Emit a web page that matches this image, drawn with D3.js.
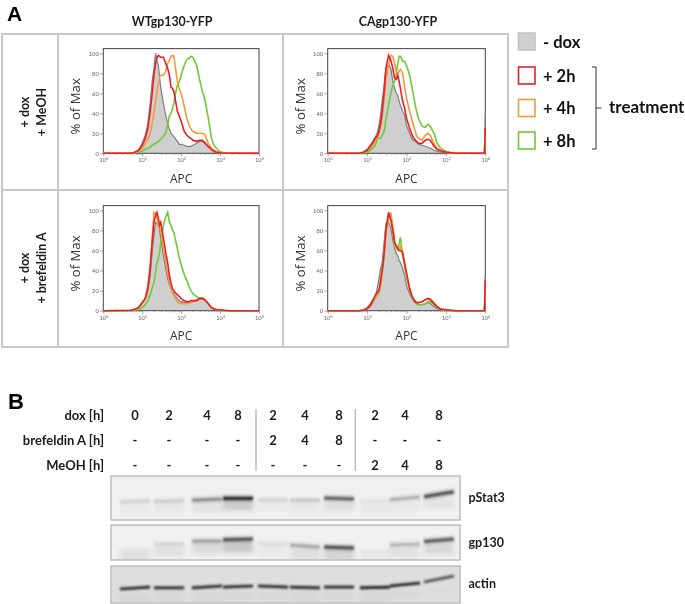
<!DOCTYPE html>
<html><head><meta charset="utf-8">
<script src="https://cdnjs.cloudflare.com/ajax/libs/d3/7.8.5/d3.min.js"></script>
<style>
html,body{margin:0;padding:0;background:#fff}
svg{display:block;filter:blur(0.4px)}
text{font-family:Lato,"Open Sans",sans-serif}
</style></head><body><div id="chart"></div>
<script>
// ---------- Flow cytometry data: % of Max at each APC value ----------
const apc = [1,5,6,8,10,12,14,16,18,20,22,24,26,28,30,35,40,45,50,55,60,65,70,80,90,100,120,140,160,180,200,250,300,350,400,500,600,700,800,1000,1300,1800,5000,9500,10000];

const wtMeohGray   = [0,0,.5,3,10,18,30,50,72,85,100,92,88,75,65,50,38,30,24,20,18,17,15,12,9,9,8,7,7,7,8,10,12,12,10,6,4,2,1,.5,0,0,0,0,0];
const wtMeohRed    = [0,0,.5,3,8,15,25,42,60,78,90,96,98,97,96,96,90,85,78,66,65,62,55,42,37,32,22,18,16,15,13,12,13,13,11,7,4,2,1,.5,.3,0,0,0,0];
const wtMeohOrange = [0,0,.5,2,5,10,14,20,30,40,52,62,70,77,78,78,82,90,93,97,98,97,88,72,64,60,47,35,28,24,22,20,20,20,19,10,5,3,2,1,.3,0,0,0,0];
const wtMeohGreen  = [0,0,.3,1,2,4,5,6,8,9,10,11,12,13,14,17,20,28,38,40,45,50,58,68,72,78,88,94,95,97,96,88,73,62,55,35,15,8,5,1.5,.5,0,0,0,0];

const caMeohGray   = [0,0,0,1,4,8,12,16,20,28,38,52,62,75,85,89,85,72,65,60,58,52,48,42,38,28,20,14,12,11,9,8,7,6,5,3,2,1.5,1,.5,0,0,0,0,40];
const caMeohRed    = [0,0,0,1,3,7,11,15,17,22,30,42,55,68,85,98,93,85,75,74,78,72,65,52,45,35,25,18,14,12,10,10,13,14,13,7,4,3,2,1,.5,0,0,0,25];
const caMeohOrange = [0,0,0,1,2,5,8,12,16,20,26,36,48,60,75,88,98,97,90,82,80,82,84,80,66,55,42,32,24,18,15,13,18,20,18,10,5,3,2,1,.5,0,0,0,20];
const caMeohGreen  = [0,0,0,.5,1,3,5,8,14,15,15,18,20,25,34,48,60,68,72,80,90,97,97,92,92,88,78,65,52,42,35,27,26,29,27,20,10,6,4,2,1,.5,0,0,15];

const wtBrefGray   = [0,0,1,3,8,12,20,35,58,75,88,87,85,80,72,55,42,32,26,22,19,17,15,12,10,9,8,8,8,8,9,11,13,13,11,7,3,2,1,.5,0,0,0,0,0];
const wtBrefRed    = [0,.5,1,3,8,12,23,42,68,88,95,98,92,85,88,72,58,48,35,27,22,20,18,16,14,12,10,9,9,10,10,10,12,12,11,7,3,2,1,1,.5,0,0,0,0];
const wtBrefOrange = [0,.5,1,3,8,13,25,45,72,98,97,92,85,82,80,62,50,38,28,22,18,15,12,9,8,7,7,7,8,8,9,10,12,12,11,7,3,2,1,.5,0,0,0,0,0];
const wtBrefGreen  = [0,0,.5,1,3,6,10,16,22,28,38,48,52,58,68,85,93,98,88,85,80,78,72,62,52,46,36,30,24,20,17,14,12,13,11,7,3,2,1,.5,0,0,0,0,0];

const caBrefGray   = [0,0,0,.5,3,7,11,14,22,32,42,48,60,75,87,88,82,70,62,57,55,50,48,42,35,25,17,12,8,7,6,6,7,8,7,4,2,1,.5,0,0,0,0,0,35];
const caBrefRed    = [0,0,0,.5,2,5,10,15,18,20,30,40,50,65,80,98,90,80,68,65,62,60,60,58,47,38,22,14,10,8,8,9,11,12,11,7,4,2,1.5,1,.5,0,0,0,30];
const caBrefOrange = [0,0,0,.5,2,5,9,13,16,19,27,38,50,64,80,95,97,85,68,62,60,62,64,55,45,36,22,14,10,8,8,9,11,12,12,8,4,2,1.5,1,.5,0,0,0,22];
const caBrefGreen  = [0,0,0,.5,2,4,8,12,15,18,26,36,48,62,78,92,95,80,66,62,62,66,73,55,44,34,20,13,9,7,6,6,7,9,9,6,3,2,1,.5,0,0,0,0,15];

const yTicks = [0,20,40,60,80,100];
const xDecades = [1,10,100,1000,10000];

// ---------- Western blot data ----------
const doxLabels  = ["0","2","4","8","2","4","8","2","4","8"];
const brefLabels = ["-","-","-","-","2","4","8","-","-","-"];
const meohLabels = ["-","-","-","-","-","-","-","2","4","8"];
const lanes = d3.range(10);

const pStat3Signal = [.1,.12,.42,1,.1,.14,.62,.05,.28,.72];
const pStat3Left   = [59,58,55,51,55,55,50,57,54,47];
const pStat3Right  = [57,56,52,51,55,55,52,57,48,36];
const pStat3Smear  = [.02,.04,.06,.2,.02,.03,.1,.03,.03,.06];

const gp130Signal  = [.02,.08,.32,.7,.06,.3,.72,.02,.24,.65];
const gp130Left    = [71,54,46,42,54,57,63,75,57,47];
const gp130Right   = [71,54,46,40,54,63,66,75,54,40];
const gp130Smear   = [.1,.09,.11,.22,.05,.1,.15,.05,.09,.13];

const actinSignal  = [.8,.8,.8,.8,.8,.8,.8,.85,.85,.6];
const actinLeft    = [62,59,59,57,54,57,57,59,54,43];
const actinRight   = [57,59,54,54,57,59,57,57,46,27];
const actinSmear   = [.07,.07,.07,.07,.05,.07,.07,.07,.04,.01];

// ---------- Layout ----------
const W = 685, H = 604;
const svg = d3.select("#chart").append("svg").attr("width",W).attr("height",H);
const defs = svg.append("defs");
defs.append("filter").attr("id","blur").attr("x","-20%").attr("y","-60%").attr("width","140%").attr("height","220%")
  .append("feGaussianBlur").attr("stdDeviation",1.1);
defs.append("filter").attr("id","wide").attr("x","-20%").attr("y","-60%").attr("width","140%").attr("height","220%")
  .append("feGaussianBlur").attr("stdDeviation",2.2);

const gridCol = "#c9c9c9";
const frame = svg.append("g").attr("stroke",gridCol).attr("stroke-width",2).attr("fill","none");
frame.append("rect").attr("x",2).attr("y",34).attr("width",506).attr("height",313);
[[58,34,58,347],[283,34,283,347],[2,190,508,190]].forEach(l=>
  frame.append("line").attr("x1",l[0]).attr("y1",l[1]).attr("x2",l[2]).attr("y2",l[3]));

function title(x,y,t,size,anchor,opts={}){
  return svg.append("text").attr("x",x).attr("y",y).attr("text-anchor",anchor||"start")
    .attr("font-size",size).attr("font-weight",opts.weight||700).attr("fill",opts.fill||"#1c1c1c")
    .attr("style",opts.family?`font-family:${opts.family}`:null).text(t);
}
title(7,21,"A",21,"start",{family:"'Liberation Sans'",fill:"#000"});
title(8,409,"B",22,"start",{family:"'Liberation Sans'",fill:"#000"});
title(172,26,"WTgp130-YFP",12.4,"middle");
title(398,26,"CAgp130-YFP",12.4,"middle");

function vlabel(x,y,t,size,opts={}){
  return svg.append("text").attr("transform",`translate(${x},${y}) rotate(-90)`).attr("text-anchor","middle")
   .attr("font-size",size).attr("font-weight",opts.weight||700).attr("fill",opts.fill||"#1c1c1c")
   .attr("style",opts.family?`font-family:${opts.family}`:null).text(t);
}
vlabel(29,112,"+ dox",12.5); vlabel(46,112,"+ MeOH",12.5);
vlabel(29,268,"+ dox",12.5); vlabel(46,268,"+ brefeldin A",12.5);

const colors = {gray:"#7d7d7d", fill:"#cfcfcf", red:"#ea2027", orange:"#f59a3a", green:"#6fca35"};

function histogram(cfg){
  const x = d3.scaleLog().domain([1,10000]).range([cfg.x0,cfg.x1]);
  const y = d3.scaleLinear().domain([0,100]).range([cfg.y0,cfg.y100]);
  const top = cfg.y100-4.7;
  const g = svg.append("g");
  const plot = g.append("g");
  const area = d3.area().x((d,i)=>x(apc[i])).y0(y(0)).y1(d=>y(d));
  const line = d3.line().x((d,i)=>x(apc[i])).y(d=>y(d));
  plot.append("path").attr("d",area(cfg.gray)).attr("fill",colors.fill);
  plot.append("rect").attr("x",cfg.x0).attr("y",top).attr("width",cfg.x1-cfg.x0).attr("height",cfg.y0-top)
     .attr("fill","none").attr("stroke","#444").attr("stroke-width",1);
  [["gray",cfg.gray,1.2],["green",cfg.green,1.6],["orange",cfg.orange,1.6],["red",cfg.red,1.6]].forEach(s=>
    plot.append("path").attr("d",line(s[1])).attr("fill","none").attr("stroke",colors[s[0]]).attr("stroke-width",s[2]));

  const minor = x.ticks().filter(v=>!xDecades.includes(v));
  const fmtAxis = sel => {
    sel.select(".domain").remove();
    sel.selectAll("line").attr("stroke","#777").attr("stroke-width",.7);
  };
  const ax = g.append("g").attr("transform",`translate(0,${cfg.y0})`)
    .call(d3.axisBottom(x).tickValues(xDecades).tickSize(3).tickPadding(1).tickFormat(v=>Math.round(Math.log10(v)))).call(fmtAxis);
  ax.selectAll("text").each(function(){
    const t = d3.select(this), e = t.text();
    t.text("").attr("font-size",5.6).attr("fill","#666").attr("dy","0.9em");
    t.append("tspan").text("10");
    t.append("tspan").attr("font-size",4).attr("dy","-0.5em").text(e);
  });
  g.append("g").attr("transform",`translate(0,${cfg.y0})`)
    .call(d3.axisBottom(x).tickValues(minor).tickSize(1.5).tickFormat("")).call(fmtAxis);
  const ay = g.append("g").attr("transform",`translate(${cfg.x0},0)`)
    .call(d3.axisLeft(y).tickValues(yTicks).tickSize(3).tickPadding(1.5)).call(fmtAxis);
  ay.selectAll("text").attr("font-size",5.8).attr("fill","#666");

  svg.append("text").attr("x",(cfg.x0+cfg.x1)/2).attr("y",cfg.y0+29.5).attr("text-anchor","middle")
    .attr("style","font-family:'Open Sans'").attr("font-size",12).attr("fill","#333").text("APC");
  vlabel(cfg.x0-23,(cfg.y0+cfg.y100)/2+3,"% of Max",13.2,{weight:400,fill:"#333",family:"'Open Sans'"});
}
histogram({x0:103.3,x1:259,y0:153.3,y100:53.3,gray:wtMeohGray,red:wtMeohRed,orange:wtMeohOrange,green:wtMeohGreen});
histogram({x0:327.7,x1:485.3,y0:153.3,y100:53.3,gray:caMeohGray,red:caMeohRed,orange:caMeohOrange,green:caMeohGreen});
histogram({x0:103.3,x1:259,y0:310.7,y100:210.3,gray:wtBrefGray,red:wtBrefRed,orange:wtBrefOrange,green:wtBrefGreen});
histogram({x0:327.7,x1:485.3,y0:310.7,y100:210.3,gray:caBrefGray,red:caBrefRed,orange:caBrefOrange,green:caBrefGreen});

// ---------- Legend ----------
const legendRows = [
  {t:"- dox",  y:33,  fill:"#cfcfcf", stroke:"#c4c4c4"},
  {t:"+ 2h",   y:67,  fill:"#fff",    stroke:colors.red},
  {t:"+ 4h",   y:99.5,fill:"#fff",    stroke:colors.orange},
  {t:"+ 8h",   y:132, fill:"#fff",    stroke:colors.green}
];
const leg = svg.append("g");
leg.selectAll("rect").data(legendRows).join("rect")
  .attr("x",518.5).attr("y",d=>d.y).attr("width",16.5).attr("height",17)
  .attr("fill",d=>d.fill).attr("stroke",d=>d.stroke).attr("stroke-width",1.6);
leg.selectAll("text").data(legendRows).join("text")
  .attr("x",543).attr("y",d=>d.y+14.5).attr("font-size",16.5).attr("font-weight",700).attr("fill","#111").text(d=>d.t);
svg.append("path").attr("d","M592,67H596V149H592M596,108H601.5").attr("fill","none").attr("stroke","#333").attr("stroke-width",1);
title(609,113,"treatment",17,"start",{fill:"#111"});

// ---------- Blot ----------
const laneX = d3.scaleOrdinal().domain(lanes).range([135,169,207,238,273,305,339,375,405,439]);
const rowLabels = [["dox [h]",doxLabels,420],["brefeldin A [h]",brefLabels,445],["MeOH [h]",meohLabels,470]];
rowLabels.forEach(r=>{
  title(104,r[2],r[0],13,"end");
  svg.append("g").selectAll("text").data(r[1]).join("text")
    .attr("x",(d,i)=>laneX(i)).attr("y",r[2]).attr("text-anchor","middle")
    .attr("font-size",13).attr("font-weight",700).attr("fill","#1c1c1c").text(d=>d);
});
[256,355.3].forEach(x=>svg.append("line").attr("x1",x).attr("x2",x).attr("y1",409).attr("y2",471).attr("stroke","#bcbcbc").attr("stroke-width",1.5));

function blot(cfg){
  const y = d3.scaleLinear().domain([0,100]).range([cfg.top,cfg.bottom]);
  const clipId = "clip"+cfg.name;
  defs.append("clipPath").attr("id",clipId).append("rect").attr("x",111).attr("y",cfg.top).attr("width",349).attr("height",cfg.bottom-cfg.top);
  svg.append("rect").attr("x",111).attr("y",cfg.top).attr("width",349).attr("height",cfg.bottom-cfg.top).attr("fill",cfg.bg);
  const clipped = svg.append("g").attr("clip-path",`url(#${clipId})`);
  const half = 15;
  clipped.append("g").attr("filter","url(#wide)").selectAll("rect.smear").data(lanes).join("rect").attr("class","smear")
    .attr("x",i=>laneX(i)-half).attr("width",2*half)
    .attr("y",i=>y(Math.max(cfg.left[i],cfg.right[i]))+cfg.smearGap).attr("height",cfg.smearH)
    .attr("fill","#333").attr("opacity",i=>cfg.smear[i]);
  const g = clipped.append("g").attr("filter","url(#blur)");
  const seg = sel => sel.attr("x1",i=>laneX(i)-half).attr("x2",i=>laneX(i)+half)
    .attr("y1",i=>y(cfg.left[i])).attr("y2",i=>y(cfg.right[i]));
  g.selectAll("line.halo").data(lanes).join("line").attr("class","halo").call(seg)
    .attr("stroke","#333").attr("stroke-width",cfg.halo).attr("opacity",i=>cfg.signal[i]*.35);
  g.selectAll("line.core").data(lanes).join("line").attr("class","core").call(seg)
    .attr("stroke","#111").attr("stroke-width",cfg.core).attr("opacity",i=>cfg.signal[i]);
  svg.append("rect").attr("x",111).attr("y",cfg.top).attr("width",349).attr("height",cfg.bottom-cfg.top)
    .attr("fill","none").attr("stroke","#bdbdbd").attr("stroke-width",1.5);
  title(468.5,cfg.labelY,cfg.name,12.5,"start",{fill:"#1c1c1c"});
}
blot({name:"pStat3",top:476,bottom:520,bg:"#f0f0f0",signal:pStat3Signal,left:pStat3Left,right:pStat3Right,smear:pStat3Smear,smearGap:2,smearH:10,core:2.5,halo:7,labelY:502});
blot({name:"gp130",top:525,bottom:560,bg:"#f1f1f1",signal:gp130Signal,left:gp130Left,right:gp130Right,smear:gp130Smear,smearGap:1,smearH:12,core:2.5,halo:7,labelY:547});
blot({name:"actin",top:566,bottom:603,bg:"#dedede",signal:actinSignal,left:actinLeft,right:actinRight,smear:actinSmear,smearGap:6,smearH:5,core:2.6,halo:4,labelY:588});
</script></body></html>
